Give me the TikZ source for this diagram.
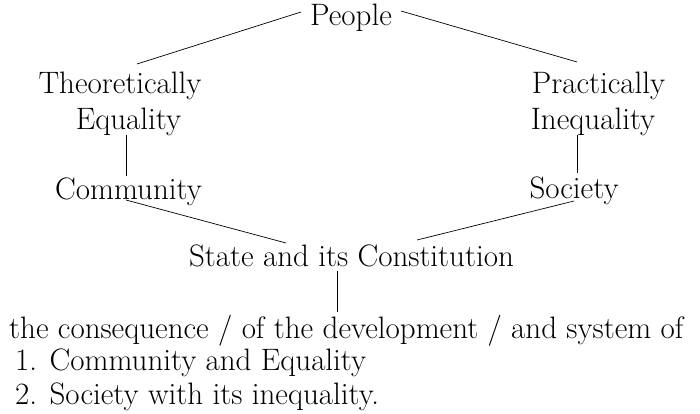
\documentclass[tikz,border=0pt]{standalone}
\begin{document}
\begin{tikzpicture}[x=1pt,y=-1pt,
  every node/.style={inner sep=0pt,font=\fontsize{31}{37}\selectfont},
  lbl/.style={anchor=base},
  lst/.style={anchor=base west},
  link/.style={line width=0.7pt}]
\useasboundingbox (0,0) rectangle (700,414);
% top of the tree
\node[lbl] (people) at (351,26) {People};
\node[lbl] (theo) at (120,94) {Theoretically};
\node[lbl] (equal) at (128.5,130) {Equality};
\node[lbl] (prac) at (598.5,94) {Practically};
\node[lbl] (ineq) at (593,130) {Inequality};
\node[lbl] (comm) at (128.5,199) {Community};
\node[lbl] (soc) at (574,198) {Society};
\node[lbl] (state) at (351.5,266) {State and its Constitution};
% the text below
\node[lst] (cons) at (9,338) {the consequence / of the development / and system of};
\node[lst] (one) at (15,370) {1. Community and Equality};
\node[lst] (two) at (15,404) {2. Society with its inequality.};
\draw[link] ([xshift=-50pt,yshift=14pt]people.base) -- ([xshift=17pt,yshift=30pt]theo.base);
\draw[link] ([xshift=50pt,yshift=15pt]people.base) -- ([xshift=-21.5pt,yshift=32pt]prac.base);
\draw[link] ([xshift=-2.5pt,yshift=-5pt]equal.base) -- ([xshift=-2.5pt,yshift=23pt]comm.base);
\draw[link] ([xshift=-16pt,yshift=-5pt]ineq.base) -- ([xshift=3pt,yshift=25pt]soc.base);
\draw[link] ([xshift=-2.5pt,yshift=-1pt]comm.base) -- ([xshift=-65.5pt,yshift=23pt]state.base);
\draw[link] ([yshift=-3pt]soc.base) -- ([xshift=65.5pt,yshift=26pt]state.base);
\draw[link] ([xshift=-14.5pt,yshift=-5pt]state.base) -- ([xshift=-14.5pt,yshift=26pt]state.base |- cons.base);
\end{tikzpicture}
\end{document}
